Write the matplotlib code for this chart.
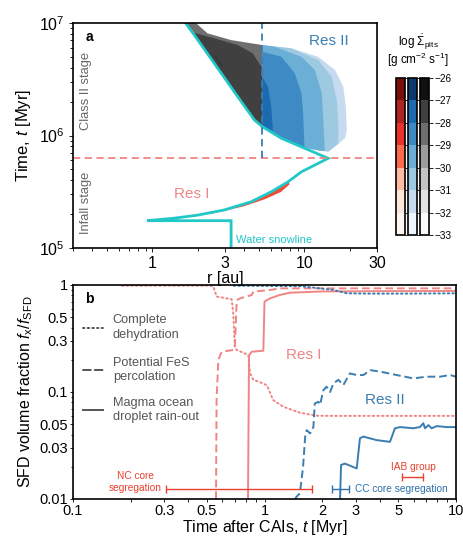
import numpy as np
import matplotlib
matplotlib.use('Agg')
import matplotlib.pyplot as plt
from matplotlib.lines import Line2D
from matplotlib.colors import ListedColormap, BoundaryNorm
import matplotlib.colorbar as mcb
import matplotlib.ticker as mt

plt.rcParams['font.family'] = ['Liberation Sans', 'DejaVu Sans']
plt.rcParams['mathtext.fontset'] = 'custom'
plt.rcParams['mathtext.rm'] = 'Liberation Sans'
plt.rcParams['mathtext.it'] = 'Liberation Sans:italic'
plt.rcParams['mathtext.bf'] = 'Liberation Sans:bold'

# ---------------- panel a data ----------------
snow_r = [3.29, 3.29, 0.92, 1.38, 1.98, 2.97, 4.46, 6.04, 7.8, 9.55, 14.3,
          10.05, 7.04, 5.27, 4.69, 3.64, 2.55, 1.85, 1.65, 1.55]
snow_t = [1.0e5, 1.75e5, 1.75e5, 1.84e5, 1.96e5, 2.18e5, 2.58e5, 3.16e5, 3.88e5,
          4.76e5, 6.27e5, 7.7e5, 9.45e5, 1.2e6, 1.37e6, 2.21e6, 4.38e6, 8.1e6,
          1.0e7, 1.15e7]

infall_end_t = 6.27e5       # red dashed line
res_boundary_r = 5.27       # blue dashed line

gray_outer_r = [1.55, 1.65, 1.85, 2.55, 3.64, 4.69, 5.27, 5.27, 3.28, 2.30, 1.93, 1.85]
gray_outer_t = [1.15e7, 1.0e7, 8.1e6, 4.38e6, 2.21e6, 1.37e6, 1.2e6, 6.37e6, 7.06e6,
                8.1e6, 1.0e7, 1.15e7]
gray_inner_r = [1.85, 2.55, 3.64, 4.69, 5.27, 5.27, 4.57, 3.64, 2.55, 1.93]
gray_inner_t = [8.1e6, 4.38e6, 2.21e6, 1.37e6, 1.2e6, 3.96e6, 5.38e6, 6.37e6, 7.31e6, 8.1e6]
gray_core_r = [2.50, 2.62, 2.78, 2.90, 2.86, 2.72, 2.57]
gray_core_t = [5.25e6, 4.95e6, 4.45e6, 4.08e6, 4.15e6, 4.6e6, 5.05e6]

blue_l1_r = [5.27, 7.04, 10.0, 12.5, 14.4, 18.5, 19.0, 18.7, 18.0, 15.9, 12.3, 8.2, 5.27]
blue_l1_t = [1.2e6, 9.45e5, 7.8e5, 7.35e5, 7.2e5, 9.45e5, 1.12e6, 1.8e6, 2.71e6,
             3.82e6, 5.01e6, 5.96e6, 6.37e6]
blue_l2_r = [5.27, 7.04, 10.0, 12.5, 14.4, 16.7, 16.7, 16.3, 15.1, 12.3, 8.2, 5.27]
blue_l2_t = [1.2e6, 9.45e5, 7.8e5, 7.35e5, 7.2e5, 8.45e5, 1.2e6, 2.07e6, 3.33e6,
             4.69e6, 5.96e6, 6.37e6]
blue_l3_r = [5.27, 7.04, 10.0, 12.5, 13.6, 13.3, 13.0, 11.7, 9.55, 6.36, 5.27]
blue_l3_t = [1.2e6, 9.45e5, 7.8e5, 7.35e5, 7.27e5, 1.37e6, 2.37e6, 3.82e6, 5.01e6,
             6.15e6, 6.37e6]
blue_l4_r = [5.27, 7.04, 10.0, 9.8, 9.55, 8.63, 7.04, 5.27]
blue_l4_t = [1.2e6, 9.45e5, 7.8e5, 1.57e6, 2.37e6, 3.57e6, 5.01e6, 5.56e6]
blue_l5_r = [5.27, 6.2, 6.04, 5.75, 5.27]
blue_l5_t = [1.2e6, 1.1e6, 1.8e6, 2.71e6, 3.33e6]

red_res_r = [1.2, 1.98, 2.97, 4.46, 6.04, 7.8, 8.0, 7.0, 5.5, 4.0, 2.5, 1.2]
red_res_t = [1.81e5, 1.96e5, 2.18e5, 2.58e5, 3.16e5, 3.88e5, 3.7e5, 3.15e5,
             2.72e5, 2.35e5, 2.03e5, 1.81e5]

cb_levels = [-33, -32, -31, -30, -29, -28, -27, -26]
reds = ['#fff5f0', '#fee5d9', '#fcbba1', '#fb6a4a', '#e8322a', '#b0251f', '#7a1009']
blues = ['#eef5fc', '#c6dbef', '#9ecae1', '#6baed6', '#3d8ac4', '#1c6ab0', '#0d3a6e']
greys = ['#fafafa', '#e2e2e2', '#c3c3c3', '#9c9c9c', '#6e6e6e', '#404040', '#111111']

# ---------------- panel b data ----------------
red_dot_t = [0.18, 0.52, 0.541, 0.562, 0.674, 0.687, 0.70, 0.716, 0.823, 0.84, 0.874,
             0.986, 1.03, 1.11, 1.25, 1.53, 1.87, 2.29, 10]
red_dot_f = [0.985, 0.985, 0.97, 0.78, 0.735, 0.54, 0.265, 0.247, 0.222, 0.15, 0.13,
             0.12, 0.115, 0.084, 0.073, 0.064, 0.060, 0.0598, 0.0598]
red_dash_t = [0.558, 0.562, 0.574, 0.598, 0.687, 0.70, 0.716, 0.745, 0.857, 0.874,
              1.07, 1.2, 10]
red_dash_f = [0.01, 0.084, 0.2, 0.238, 0.247, 0.265, 0.72, 0.75, 0.806, 0.866,
              0.898, 0.93, 0.93]
red_solid_t = [0.82, 0.83, 0.857, 0.986, 1.0, 1.07, 1.2, 1.36, 2.0, 10]
red_solid_f = [0.0099, 0.22, 0.238, 0.243, 0.70, 0.75, 0.806, 0.847, 0.87, 0.88]

blue_dot_t = [0.69, 1.53, 1.95, 2.29, 2.69, 3.5, 5.0, 10]
blue_dot_f = [0.985, 0.975, 0.93, 0.9, 0.836, 0.83, 0.83, 0.836]
blue_dash_t = [1.44, 1.47, 1.53, 1.59, 1.63, 1.66, 1.73, 1.80, 1.83, 1.91, 1.95, 2.03,
               2.11, 2.2, 2.29, 2.43, 2.58, 2.79, 3.03, 3.28, 3.48, 3.56, 4.01, 4.9,
               5.98, 7.03, 8.25, 9.3, 10]
blue_dash_f = [0.0099, 0.0105, 0.0113, 0.02, 0.038, 0.044, 0.041, 0.047, 0.078, 0.081,
               0.076, 0.104, 0.112, 0.1, 0.12, 0.13, 0.116, 0.149, 0.144, 0.144, 0.155,
               0.16, 0.155, 0.144, 0.134, 0.139, 0.139, 0.144, 0.139]
blue_solid_t = [2.48, 2.51, 2.63, 3.03, 3.15, 3.28, 3.85, 4.52, 4.8, 5.1, 5.98, 6.48,
                6.75, 6.89, 7.17, 7.46, 7.93, 8.94, 10]
blue_solid_f = [0.0099, 0.0208, 0.0214, 0.0193, 0.0369, 0.0383, 0.0355, 0.0342, 0.0458,
                0.047, 0.0458, 0.047, 0.051, 0.0458, 0.049, 0.0458, 0.048, 0.047, 0.047]

nc_range = [0.306, 1.78]
cc_range = [2.24, 2.76]
iab_range = [5.2, 6.75]
seg_f = 0.0124
iab_f = 0.016

RED = '#ef8584'
BLUE = '#3a7db0'
CYAN = '#22c8c8'
ERR_RED = '#e8402f'
ERR_BLUE = '#2e6fa8'

fig = plt.figure(figsize=(4.63, 5.38), dpi=100)

# ---------------- panel b (created first so panel a labels draw on top) --------
ax2 = fig.add_axes([0.1577, 0.0725, 0.8272, 0.3978])
ax2.patch.set_alpha(0)

# ---------------- panel a ----------------
ax1 = fig.add_axes([0.1577, 0.539, 0.6566, 0.4182])
ax1.set_xscale('log'); ax1.set_yscale('log')
ax1.set_xlim(0.3, 30); ax1.set_ylim(1e5, 1e7)

ax1.fill(gray_outer_r, gray_outer_t, color=greys[4], lw=0)
ax1.fill(gray_inner_r, gray_inner_t, color=greys[5], lw=0)
ax1.fill(gray_core_r, gray_core_t, color=greys[6], lw=0)
ax1.fill(blue_l1_r, blue_l1_t, color=blues[1], lw=0)
ax1.fill(blue_l2_r, blue_l2_t, color=blues[2], lw=0)
ax1.fill(blue_l3_r, blue_l3_t, color=blues[3], lw=0)
ax1.fill(blue_l4_r, blue_l4_t, color=blues[4], lw=0)
ax1.fill(blue_l5_r, blue_l5_t, color=blues[5], lw=0)
ax1.fill(red_res_r, red_res_t, color='#f04a33', lw=0)

ax1.plot(snow_r, snow_t, color=CYAN, lw=2.0, solid_joinstyle='miter')
ax1.axhline(infall_end_t, color=RED, lw=1.3, ls=(0, (4, 2.5)))
ax1.plot([res_boundary_r, res_boundary_r], [infall_end_t, 1e7], color=BLUE, lw=1.3,
         ls=(0, (4, 2.5)))

ax1.set_xticks([1, 3, 10, 30])
ax1.set_xticklabels(['1', '3', '10', '30'])
ax1.xaxis.set_minor_formatter(mt.NullFormatter())
ax1.set_xlabel('r [au]', fontsize=11.5, labelpad=0)
ax1.set_ylabel('Time, $t$ [Myr]', fontsize=12, labelpad=4)
ax1.tick_params(which='both', direction='out', labelsize=11.5, width=0.6)
ax1.tick_params(which='major', length=3, pad=3)
ax1.tick_params(which='minor', length=2)
for s in ax1.spines.values():
    s.set_linewidth(1.2)

ax1.text(0.04, 0.94, 'a', transform=ax1.transAxes, fontsize=10, fontweight='bold',
         ha='left', va='center')
ax1.text(14.5, 6.9e6, 'Res II', color=BLUE, fontsize=11, ha='center', va='center')
ax1.text(1.8, 3.05e5, 'Res I', color=RED, fontsize=11, ha='center', va='center')
ax1.text(3.55, 1.17e5, 'Water snowline', color=CYAN, fontsize=8, ha='left', va='center')
ax1.text(0.043, 0.70, 'Class II stage', transform=ax1.transAxes, rotation=90,
         color='#666666', fontsize=9.3, ha='center', va='center')
ax1.text(0.043, 0.20, 'Infall stage', transform=ax1.transAxes, rotation=90,
         color='#666666', fontsize=9.3, ha='center', va='center')

# colorbars
norm = BoundaryNorm(cb_levels, 7)
cb_lefts = [0.8553, 0.8812, 0.9071]
for i, cols in enumerate([reds, blues, greys]):
    cax = fig.add_axes([cb_lefts[i], 0.5632, 0.0194, 0.2918])
    cb = mcb.ColorbarBase(cax, cmap=ListedColormap(cols), norm=norm,
                          boundaries=cb_levels, ticks=cb_levels, spacing='uniform')
    cb.outline.set_linewidth(1.2)
    if i < 2:
        cax.set_yticks([])
    else:
        cax.tick_params(labelsize=7.2, length=3, width=0.6, pad=1)
        cax.set_yticklabels(['\u2212%d' % abs(v) for v in cb_levels])
fig.text(0.903, 0.922, r'log $\dot{\Sigma}_{\rm plts}$', fontsize=8.5, ha='center',
         va='center')
fig.text(0.903, 0.888, r'[g cm$^{-2}$ s$^{-1}$]', fontsize=8.5, ha='center', va='center')

# ---------------- panel b ----------------
ax2.set_xscale('log'); ax2.set_yscale('log')
ax2.set_xlim(0.1, 10); ax2.set_ylim(0.01, 1)

LW = 1.4
ax2.plot(red_dot_t, red_dot_f, color=RED, lw=LW, ls=(0, (0.8, 1.6)),
         dash_capstyle='round')
ax2.plot(red_dash_t, red_dash_f, color=RED, lw=LW, ls=(0, (4, 2)))
ax2.plot(red_solid_t, red_solid_f, color=RED, lw=LW)
ax2.plot(blue_dot_t, blue_dot_f, color=BLUE, lw=LW, ls=(0, (0.8, 1.6)),
         dash_capstyle='round')
ax2.plot(blue_dash_t, blue_dash_f, color=BLUE, lw=LW, ls=(0, (4, 2)))
ax2.plot(blue_solid_t, blue_solid_f, color=BLUE, lw=LW)

def hbar(x0, x1, y, c):
    ax2.errorbar([np.sqrt(x0 * x1)], [y],
                 xerr=[[np.sqrt(x0 * x1) - x0], [x1 - np.sqrt(x0 * x1)]],
                 fmt='none', ecolor=c, elinewidth=1.0, capsize=3, capthick=1.0)

hbar(nc_range[0], nc_range[1], seg_f, ERR_RED)
hbar(cc_range[0], cc_range[1], seg_f, ERR_BLUE)
hbar(iab_range[0], iab_range[1], iab_f, ERR_RED)

ax2.text(0.29, 0.0145, 'NC core\nsegregation', color=ERR_RED, fontsize=7.3,
         ha='right', va='center', multialignment='center', linespacing=1.2)
ax2.text(2.97, seg_f, 'CC core segregation', color=ERR_BLUE, fontsize=7.3,
         ha='left', va='center')
ax2.text(5.98, 0.0198, 'IAB group', color=ERR_RED, fontsize=7.3, ha='center',
         va='center')
ax2.text(1.6, 0.222, 'Res I', color=RED, fontsize=11, ha='center', va='center')
ax2.text(4.26, 0.084, 'Res II', color=BLUE, fontsize=11, ha='center', va='center')
ax2.text(0.031, 0.933, 'b', transform=ax2.transAxes, fontsize=10, fontweight='bold',
         ha='left', va='center')

leg_style = [(0, (0.8, 1.6)), (0, (4, 2)), '-']
leg_text = ['Complete\ndehydration', 'Potential FeS\npercolation',
            'Magma ocean\ndroplet rain-out']
leg_y = [0.80, 0.603, 0.416]
for st, tx, yy in zip(leg_style, leg_text, leg_y):
    ax2.add_line(Line2D([0.026, 0.078], [yy, yy], transform=ax2.transAxes,
                        color='#555555', lw=LW, ls=st, dash_capstyle='round'))
    ax2.text(0.104, yy, tx, transform=ax2.transAxes, color='#555555', fontsize=9.2,
             ha='left', va='center', linespacing=1.3)

ax2.set_xticks([0.1, 0.3, 0.5, 1, 2, 3, 5, 10])
ax2.set_xticklabels(['0.1', '0.3', '0.5', '1', '2', '3', '5', '10'])
ax2.set_yticks([0.01, 0.03, 0.05, 0.1, 0.3, 0.5, 1])
ax2.set_yticklabels(['0.01', '0.03', '0.05', '0.1', '0.3', '0.5', '1'])
ax2.xaxis.set_minor_formatter(mt.NullFormatter())
ax2.yaxis.set_minor_formatter(mt.NullFormatter())
ax2.set_xlabel('Time after CAIs, $t$ [Myr]', fontsize=11.5, labelpad=0)
ax2.set_ylabel(r'SFD volume fraction $f_{\rm x}/f_{\rm SFD}$', fontsize=11.5, labelpad=3)
ax2.tick_params(which='both', direction='out', labelsize=10.5, width=0.6)
ax2.tick_params(which='major', length=2.5, pad=1)
ax2.tick_params(which='minor', length=1.8)
for s in ax2.spines.values():
    s.set_linewidth(1.2)

fig.savefig('out.png', dpi=100)
